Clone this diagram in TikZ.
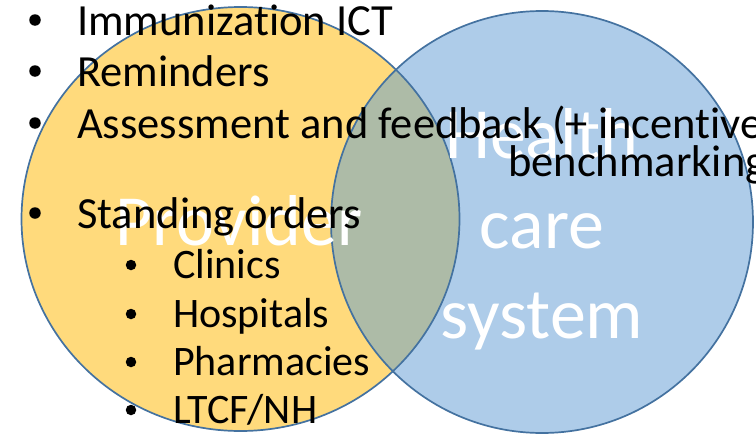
\documentclass[tikz,border=0pt]{standalone}
\usepackage{fontspec}
\setmainfont{Carlito}[Ligatures=NoCommon]
\usetikzlibrary{positioning}

\definecolor{provFill}{RGB}{255,218,124}
\definecolor{hcsFill}{RGB}{174,204,233}
\definecolor{bothFill}{RGB}{173,187,167}
\definecolor{ringLine}{RGB}{68,114,160}

\begin{document}
\begin{tikzpicture}[
    x=1pt, y=-1pt,
    ring/.style={draw=ringLine, line width=1.7pt},
    bigLbl/.style={text=white, font=\fontsize{72}{90}\selectfont, inner sep=0pt, anchor=base},
    itemTxt/.style={font=\fontsize{44.5}{52}\selectfont, inner sep=0pt, anchor=base west},
    subTxt/.style={font=\fontsize{42}{48}\selectfont, inner sep=0pt, anchor=base west},
    dotMark/.style={circle, fill=black, inner sep=0pt, minimum size=11.5pt},
    subDot/.style={circle, fill=black, inner sep=0pt, minimum size=10.5pt}
]
\useasboundingbox (0,0) rectangle (756,434);
\clip (0,0) rectangle (756,434);

% Venn circles
\coordinate (provC) at (240.5,219);
\coordinate (hcsC) at (542,222);
\fill[provFill] (provC) ellipse [x radius=219, y radius=212];
\fill[hcsFill] (hcsC) circle [radius=211];
\begin{scope}
    \clip (provC) ellipse [x radius=219, y radius=212];
    \fill[bothFill] (hcsC) circle [radius=211];
\end{scope}
\draw[ring] (provC) ellipse [x radius=219, y radius=212];
\draw[ring] (hcsC) circle [radius=211];

% Circle labels
\node[bigLbl] (provider) at (239,245) {Provider};
\node[bigLbl] (health) at (542,158) {Health};
\node[bigLbl] (care) at (542,248) {care};
\node[bigLbl] (system) at (542,338) {system};

% Main list
\node[dotMark] (b1) at (35,20) {};
\node[itemTxt] (ict) at (77,35) {Immunization ICT};
\node[dotMark] (b2) at (35,71) {};
\node[itemTxt] (remind) at (77,86) {Reminders};
\node[dotMark] (b3) at (35,123) {};
\node[itemTxt] (assess) at (77,138) {Assessment and feedback (+ incentives};
\node[itemTxt] (bench) at (508,176) {benchmarking)};
\node[dotMark] (b4) at (35,213) {};
\node[itemTxt] (standing) at (77,228) {Standing orders};

% Standing order settings
\node[subDot] (s1) at (131,265) {};
\node[subTxt] (clinics) at (173,278) {Clinics};
\node[subDot] (s2) at (131,314) {};
\node[subTxt] (hosp) at (173,327) {Hospitals};
\node[subDot] (s3) at (131,362) {};
\node[subTxt] (pharm) at (173,375) {Pharmacies};
\node[subDot] (s4) at (131,410) {};
\node[subTxt] (ltcf) at (173,423) {LTCF/NH};

\end{tikzpicture}
\end{document}
